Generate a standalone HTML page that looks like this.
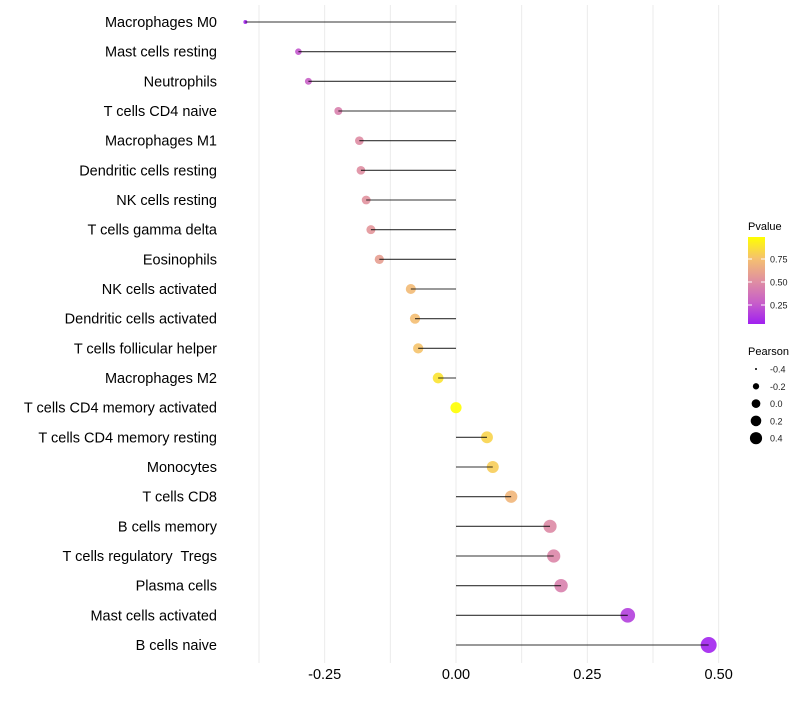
<!DOCTYPE html>
<html><head><meta charset="utf-8"><style>
body{margin:0;background:#fff;}
svg{font-family:"Liberation Sans",Arial,sans-serif;}
text{white-space:pre;}
</style></head><body>
<svg id="chart" width="800" height="700" viewBox="0 0 800 700">
<defs><linearGradient id="pg" x1="0" y1="1" x2="0" y2="0">
<stop offset="0" stop-color="#a020f0"/><stop offset="0.25" stop-color="#c860c8"/><stop offset="0.5" stop-color="#e090a0"/><stop offset="0.75" stop-color="#f5c070"/><stop offset="1" stop-color="#ffff00"/></linearGradient></defs>
<g id="grid"></g>
<g id="marks"></g>
<g id="ylabels"></g>
<g id="xlabels"></g>
<g>
<text x="748" y="230" font-size="11" fill="#000">Pvalue</text>
<rect x="748" y="237" width="17" height="87" fill="url(#pg)"/>
<g id="cbticks"></g>
</g>
<g id="sizeLegend">
<text x="748" y="355" font-size="11" fill="#000">Pearson</text>
</g>
</svg>
<script>
const categories=["Macrophages M0","Mast cells resting","Neutrophils","T cells CD4 naive","Macrophages M1","Dendritic cells resting","NK cells resting","T cells gamma delta","Eosinophils","NK cells activated","Dendritic cells activated","T cells follicular helper","Macrophages M2","T cells CD4 memory activated","T cells CD4 memory resting","Monocytes","T cells CD8","B cells memory","T cells regulatory  Tregs","Plasma cells","Mast cells activated","B cells naive"];
const pearson=[-0.401,-0.300,-0.281,-0.224,-0.184,-0.181,-0.171,-0.162,-0.146,-0.086,-0.078,-0.072,-0.034,0.0,0.059,0.070,0.105,0.179,0.186,0.200,0.327,0.481];
const pvalue=[0.02,0.22,0.26,0.42,0.48,0.49,0.51,0.53,0.58,0.72,0.74,0.76,0.89,1.0,0.83,0.80,0.70,0.47,0.45,0.42,0.12,0.01];
const xTicks=[-0.25,0,0.25,0.5];
const xTickLabels=["-0.25","0.00","0.25","0.50"];
const cbTicks=[0.25,0.5,0.75];
const cbTickLabels=["0.25","0.50","0.75"];
const sizeBreaks=[-0.4,-0.2,0,0.2,0.4];
const sizeLabels=["-0.4","-0.2","0.0","0.2","0.4"];
const NS="http://www.w3.org/2000/svg";
const x=v=>456+v*525.3;
const y=i=>22+i*(645-22)/21;
const r=v=>Math.sqrt(Math.max(1,4+68*(v+0.4)));
const rl=v=>Math.sqrt(1+45*(v+0.4));
function lerp(a,b,t){return a.map((c,k)=>Math.round(c+(b[k]-c)*t));}
const stops=[[160,32,240],[200,96,200],[224,144,160],[245,192,112],[255,255,0]];
function col(p){const k=Math.min(3,Math.floor(p*4));const c=lerp(stops[k],stops[k+1],p*4-k);return `rgb(${c.join(',')})`;}
function el(t,a,parent){const e=document.createElementNS(NS,t);for(const k in a)e.setAttribute(k,a[k]);parent.appendChild(e);return e;}
const grid=document.getElementById('grid'),marks=document.getElementById('marks'),yl=document.getElementById('ylabels'),xl=document.getElementById('xlabels');
for(let g=-0.375;g<=0.5;g+=0.125){const ln=el('line',{x1:x(g),x2:x(g),y1:5,y2:663,stroke:'#ebebeb','stroke-width':1},grid);

}
categories.forEach((c,i)=>{
const cy=y(i);
const pt=el('circle',{cx:x(pearson[i]),cy:cy,r:r(pearson[i]),fill:col(pvalue[i]),'fill-opacity':0.9},marks);


const ln=el('line',{x1:x(0),x2:x(pearson[i]),y1:cy,y2:cy,stroke:'#000','stroke-width':1.1,'stroke-opacity':0.8},marks);


const t=el('text',{x:217,y:cy+5,'text-anchor':'end','font-size':14.5,fill:'#000'},yl);t.textContent=c;


});
xTicks.forEach((v,i)=>{const t=el('text',{x:x(v),y:679,'text-anchor':'middle','font-size':14.5,fill:'#000'},xl);t.textContent=xTickLabels[i];

});
const cb=document.getElementById('cbticks');
cbTicks.forEach((v,i)=>{const yy=328-v*92;
el('line',{x1:748,x2:752,y1:yy,y2:yy,stroke:'#fff','stroke-width':1},cb);el('line',{x1:761,x2:765,y1:yy,y2:yy,stroke:'#fff','stroke-width':1},cb);
const t=el('text',{x:770,y:yy+3.5,'font-size':9,fill:'#1a1a1a'},cb);t.textContent=cbTickLabels[i];

});
const sl=document.getElementById('sizeLegend');
sizeBreaks.forEach((v,i)=>{const yy=369+i*17.3;
const c=el('circle',{cx:756,cy:yy,r:rl(v),fill:'#000'},sl);


const t=el('text',{x:770,y:yy+3.5,'font-size':9,fill:'#1a1a1a'},sl);t.textContent=sizeLabels[i];

});
</script>
</body></html>
